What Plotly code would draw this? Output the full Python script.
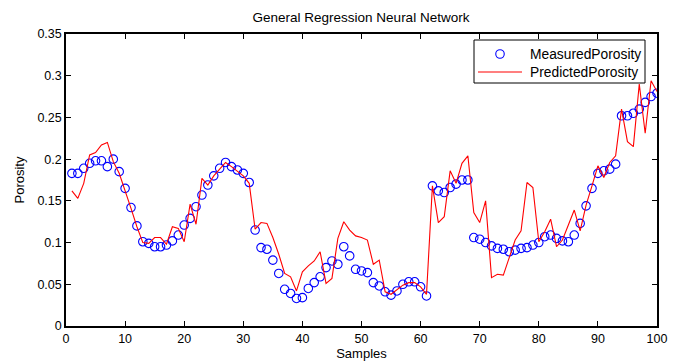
import plotly.graph_objects as go

# Sample index (1..100)
samples = list(range(1, 101))

# Measured porosity per sample
measured_porosity = [
    0.183, 0.183, 0.189, 0.195, 0.198, 0.198, 0.191, 0.200, 0.185, 0.165,
    0.142, 0.120, 0.101, 0.099, 0.095, 0.095, 0.097, 0.102, 0.109, 0.121,
    0.129, 0.143, 0.157, 0.169, 0.180, 0.189, 0.196, 0.191, 0.187, 0.183,
    0.172, 0.115, 0.094, 0.092, 0.079, 0.063, 0.044, 0.039, 0.033, 0.034,
    0.045, 0.052, 0.059, 0.070, 0.078, 0.074, 0.095, 0.084, 0.068, 0.066,
    0.064, 0.052, 0.048, 0.041, 0.037, 0.042, 0.050, 0.053, 0.053, 0.047,
    0.036, 0.168, 0.162, 0.160, 0.166, 0.170, 0.175, 0.175, 0.106, 0.104,
    0.100, 0.096, 0.093, 0.092, 0.089, 0.091, 0.093, 0.094, 0.097, 0.100,
    0.107, 0.109, 0.105, 0.102, 0.101, 0.109, 0.123, 0.144, 0.165, 0.183,
    0.186, 0.188, 0.194, 0.252, 0.252, 0.255, 0.260, 0.268, 0.275, 0.279,
]

# GRNN predicted porosity per sample
predicted_porosity = [
    0.162, 0.153, 0.171, 0.205, 0.208, 0.217, 0.220, 0.197, 0.183, 0.163,
    0.141, 0.119, 0.100, 0.099, 0.106, 0.106, 0.098, 0.119, 0.117, 0.101,
    0.146, 0.122, 0.177, 0.169, 0.180, 0.188, 0.196, 0.191, 0.186, 0.180,
    0.171, 0.116, 0.124, 0.123, 0.106, 0.086, 0.063, 0.059, 0.042, 0.065,
    0.072, 0.078, 0.089, 0.051, 0.057, 0.105, 0.125, 0.115, 0.108, 0.106,
    0.103, 0.074, 0.079, 0.041, 0.038, 0.044, 0.049, 0.052, 0.052, 0.047,
    0.038, 0.168, 0.124, 0.131, 0.186, 0.171, 0.195, 0.204, 0.136, 0.124,
    0.150, 0.058, 0.062, 0.061, 0.083, 0.103, 0.114, 0.172, 0.166, 0.101,
    0.113, 0.128, 0.095, 0.103, 0.121, 0.139, 0.114, 0.145, 0.168, 0.192,
    0.178, 0.196, 0.204, 0.260, 0.221, 0.215, 0.290, 0.231, 0.294, 0.281,
]

series_names = ["MeasuredPorosity", "PredictedPorosity"]

x_ticks = [0, 10, 20, 30, 40, 50, 60, 70, 80, 90, 100]
y_ticks = [0, 0.05, 0.1, 0.15, 0.2, 0.25, 0.3, 0.35]
y_tick_labels = ["0", "0.05", "0.1", "0.15", "0.2", "0.25", "0.3", "0.35"]

FONT = "Liberation Sans, Arial, Helvetica, sans-serif"
BLUE = "#0000ff"
RED = "#ff0000"

W, H = 676, 362
M = dict(l=66, r=19, t=34, b=36)
PW = W - M["l"] - M["r"]
PH = H - M["t"] - M["b"]


def px_x(px):
    """Page pixel column -> paper x."""
    return (px - M["l"]) / PW


def px_y(py):
    """Page pixel row -> paper y."""
    return (H - M["b"] - py) / PH


fig = go.Figure()
fig.add_trace(go.Scatter(
    x=samples, y=measured_porosity, mode="markers", name=series_names[0],
    marker=dict(symbol="circle-open", size=8.5, color=BLUE,
                line=dict(width=1.1, color=BLUE)),
))
fig.add_trace(go.Scatter(
    x=samples, y=predicted_porosity, mode="lines", name=series_names[1],
    line=dict(color=RED, width=1.1),
))

axis_common = dict(
    showgrid=False, zeroline=False, showline=True, linecolor="black",
    linewidth=1.5, mirror="ticks", ticks="inside", ticklen=5,
    tickcolor="black", tickwidth=1, automargin=False,
    tickfont=dict(family=FONT, size=12.5, color="black"),
)

# Boxed legend in the upper right corner of the axes
box_l, box_r, box_t, box_b = 474, 645, 40, 83
row_y = [54, 72]
sym_l, sym_r, text_l = 478, 522, 528
r = 4.25
shapes = [
    dict(type="rect", xref="paper", yref="paper",
         x0=px_x(box_l), x1=px_x(box_r), y0=px_y(box_b), y1=px_y(box_t),
         line=dict(color="black", width=1), fillcolor="white", layer="above"),
    dict(type="circle", xref="paper", yref="paper",
         x0=px_x((sym_l + sym_r) / 2 - r), x1=px_x((sym_l + sym_r) / 2 + r),
         y0=px_y(row_y[0] + r), y1=px_y(row_y[0] - r),
         line=dict(color=BLUE, width=1.1), layer="above"),
    dict(type="line", xref="paper", yref="paper",
         x0=px_x(sym_l), x1=px_x(sym_r), y0=px_y(row_y[1]), y1=px_y(row_y[1]),
         line=dict(color=RED, width=1.1), layer="above"),
]
annotations = [
    dict(text=name, xref="paper", yref="paper", x=px_x(text_l), y=px_y(yy),
         xanchor="left", yanchor="middle", showarrow=False,
         font=dict(family=FONT, size=13.8, color="black"))
    for name, yy in zip(series_names, row_y)
]

fig.update_layout(
    width=W, height=H,
    margin=M,
    paper_bgcolor="white", plot_bgcolor="white",
    font=dict(family=FONT, size=12.5, color="black"),
    title=dict(text="General Regression Neural Network", x=0.534, xanchor="center",
               y=0.953, yanchor="middle", font=dict(family=FONT, size=13.5, color="black")),
    xaxis=dict(range=[0, 100], tickvals=x_ticks,
               title=dict(text="Samples", standoff=2,
                          font=dict(family=FONT, size=13, color="black")),
               **axis_common),
    yaxis=dict(range=[0, 0.35], tickvals=y_ticks, ticktext=y_tick_labels,
               title=dict(text="Porosity", standoff=10,
                          font=dict(family=FONT, size=13, color="black")),
               **axis_common),
    shapes=shapes,
    annotations=annotations,
    showlegend=False,
)

fig.write_html("out.html")
